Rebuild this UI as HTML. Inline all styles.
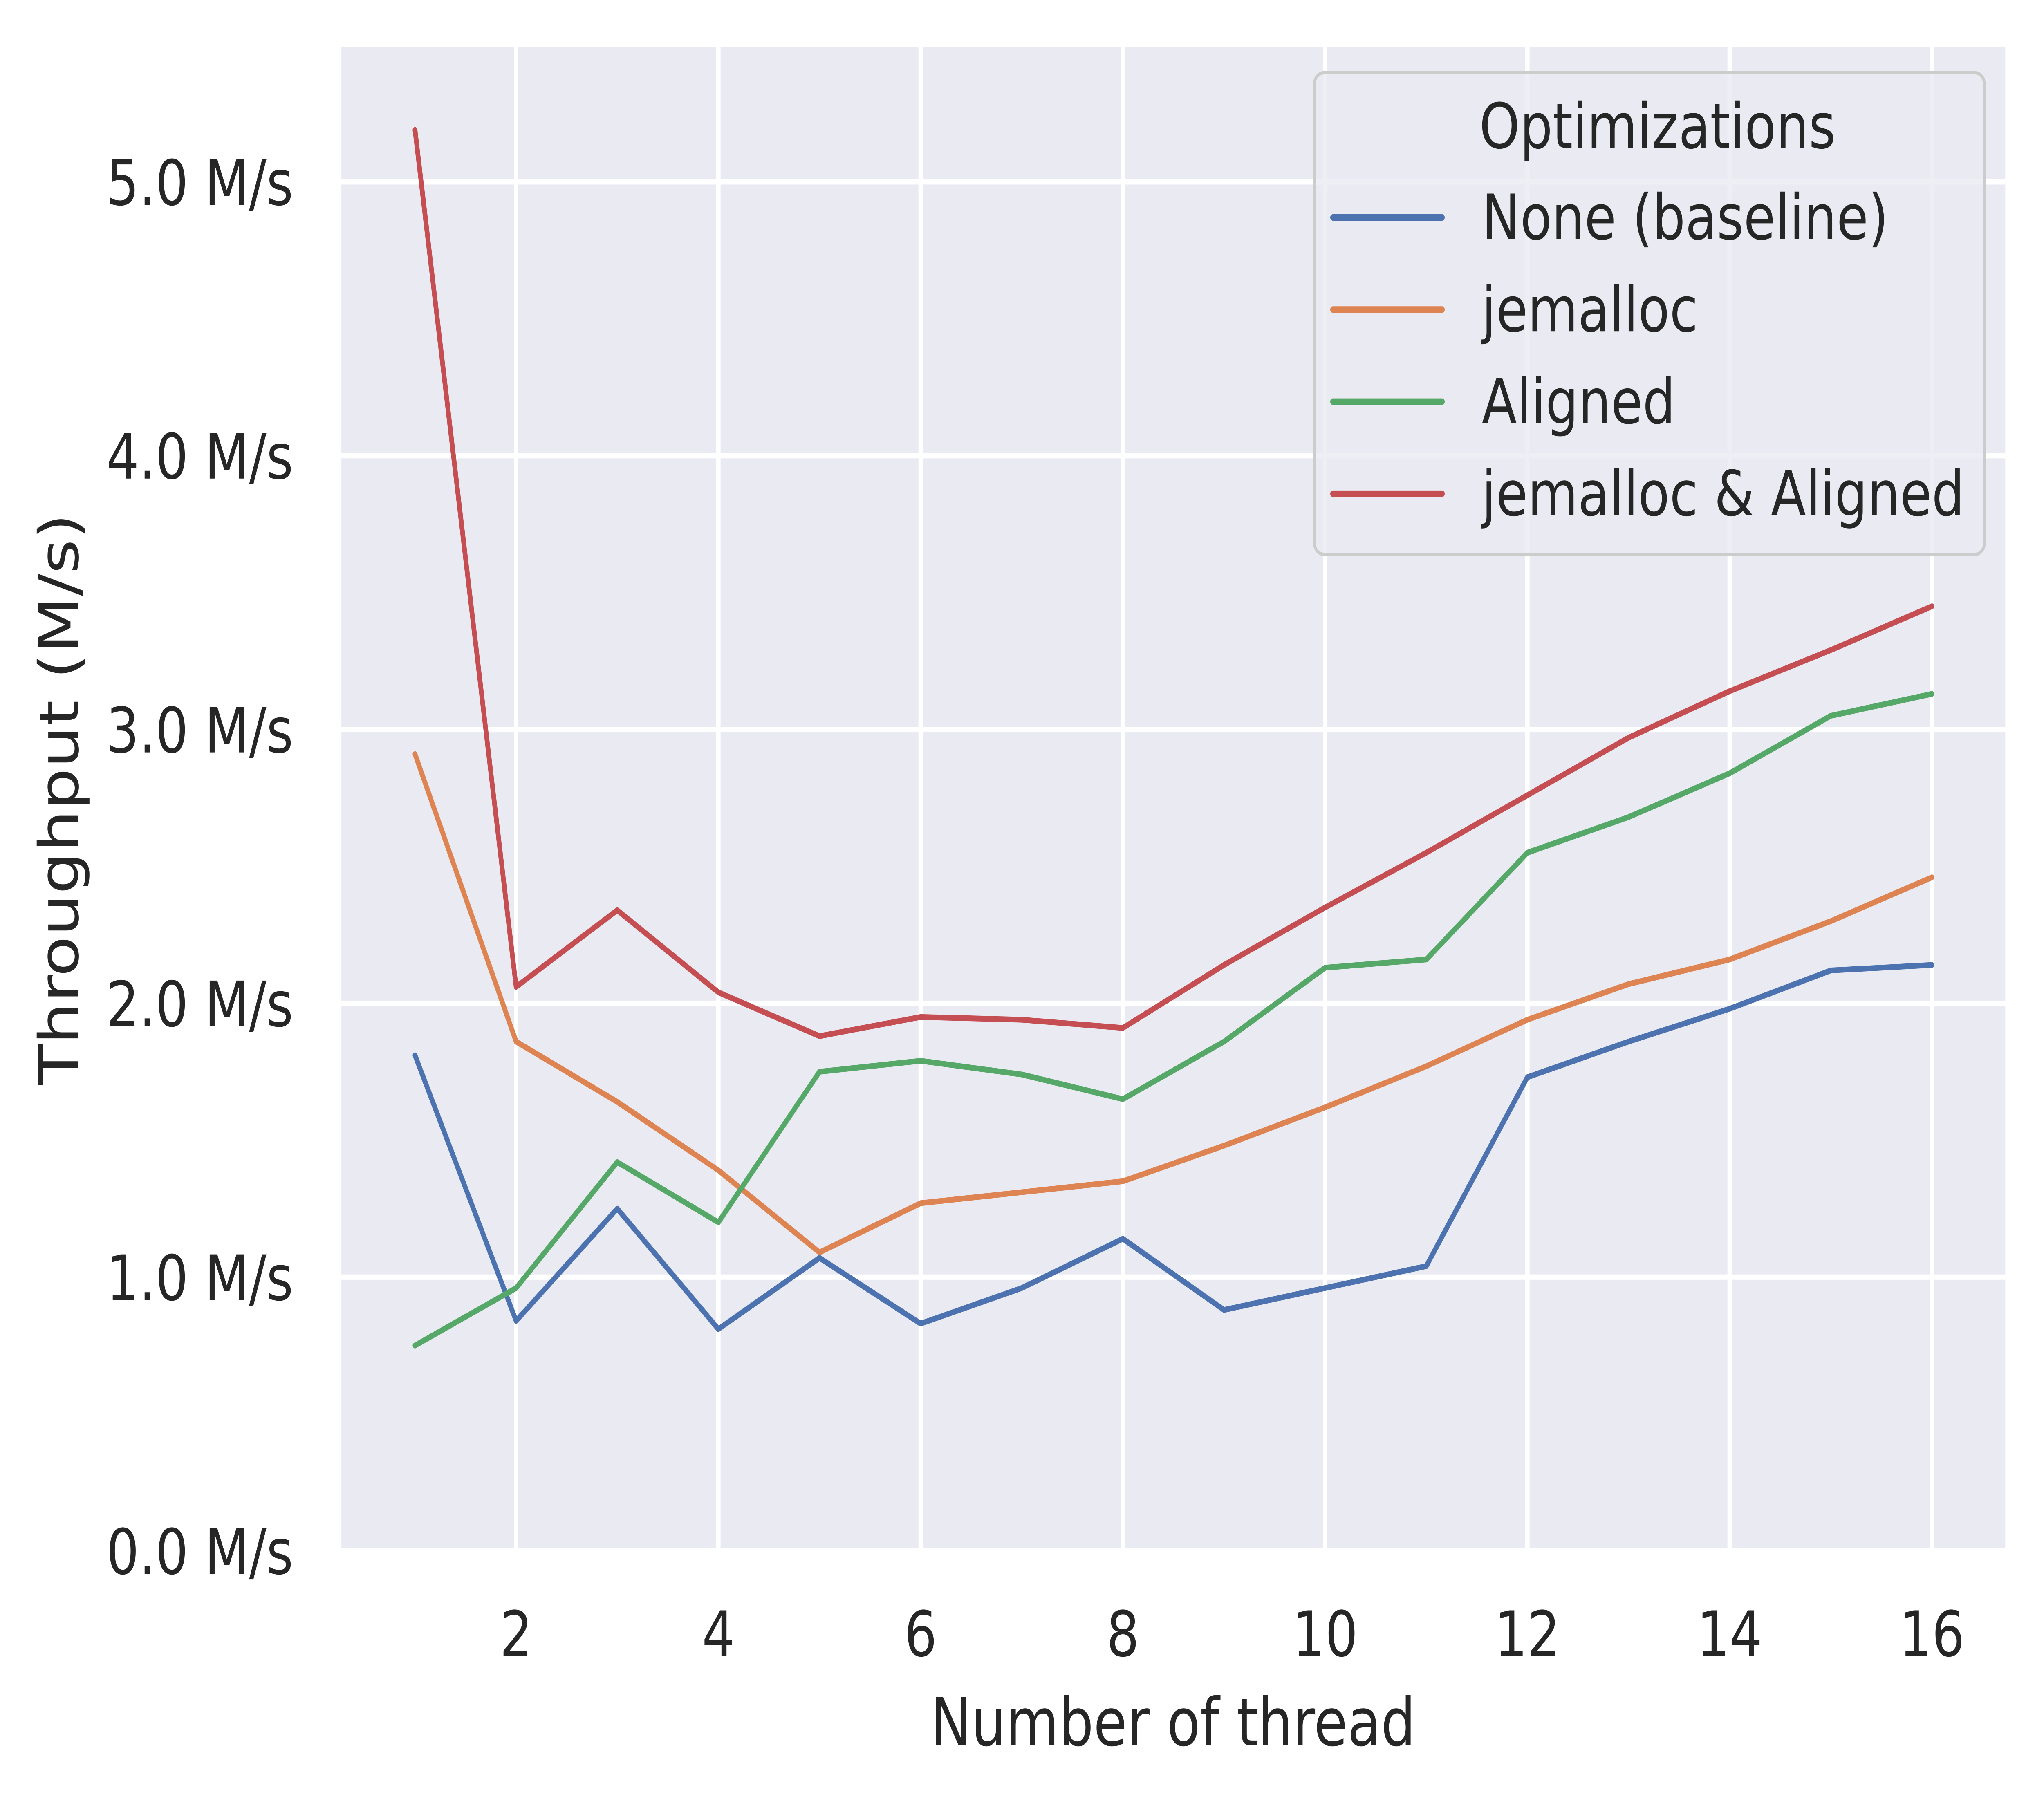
<!DOCTYPE html>
<html><head><meta charset="utf-8"><style>
html,body{margin:0;padding:0;background:#fff;overflow:hidden;width:100vw;height:100vh;}
svg{display:block;position:absolute;left:0;top:0;width:100vw;height:100vh;}
text{font-family:"DejaVu Sans","Liberation Sans",sans-serif;fill:#262626;}
</style></head><body>
<svg id="chart" viewBox="0 0 6071 4401" preserveAspectRatio="none" xmlns="http://www.w3.org/2000/svg">
<rect x="1014" y="115" width="4942" height="3679" fill="#eaeaf2"/>
<g id="grid"></g>
<g id="ticks"></g>
<g id="series"></g>
<text x="3484" y="4270" font-size="162" text-anchor="middle">Number of thread</text>
<text x="0" y="0" font-size="162" text-anchor="middle" transform="translate(232,1955) rotate(-90)">Throughput (M/s)</text>
<g id="legend">
<rect x="3904" y="178" width="1990" height="1178" rx="28" fill="#eaeaf2" fill-opacity="0.8" stroke="#cccccc" stroke-width="8"/>
<text x="4923" y="362" font-size="153" text-anchor="middle">Optimizations</text>
</g>
</svg>
<script>
const threads=[1,2,3,4,5,6,7,8,9,10,11,12,13,14,15,16];
const baseline=[1.81,0.84,1.25,0.81,1.07,0.83,0.96,1.14,0.88,0.96,1.04,1.73,1.86,1.98,2.12,2.14];
const jemalloc=[2.91,1.86,1.64,1.39,1.09,1.27,1.31,1.35,1.48,1.62,1.77,1.94,2.07,2.16,2.30,2.46];
const aligned=[0.75,0.96,1.42,1.20,1.75,1.79,1.74,1.65,1.86,2.13,2.16,2.55,2.68,2.84,3.05,3.13];
const jemallocAligned=[5.19,2.06,2.34,2.04,1.88,1.95,1.94,1.91,2.14,2.35,2.55,2.76,2.97,3.14,3.29,3.45];
const xTicks=[2,4,6,8,10,12,14,16];
const yTicks=[0,1,2,3,4,5];
const yTickLabels=["0.0 M/s","1.0 M/s","2.0 M/s","3.0 M/s","4.0 M/s","5.0 M/s"];
const seriesNames=["None (baseline)","jemalloc","Aligned","jemalloc & Aligned"];

const NS="http://www.w3.org/2000/svg";
const X0=1014,X1=5956,Y0=115,Y1=3794;
function sx(v){return 1533+(v-2)*300.36;}
function sy(v){return 3794-v*669.8;}
function mk(tag,attrs,parent){const e=document.createElementNS(NS,tag);for(const k in attrs)e.setAttribute(k,attrs[k]);parent.appendChild(e);return e;}
const grid=document.getElementById('grid'),ticks=document.getElementById('ticks'),ser=document.getElementById('series'),leg=document.getElementById('legend');
xTicks.forEach(t=>{
  const l=mk('line',{x1:sx(t),x2:sx(t),y1:Y0,y2:Y1,stroke:'#fff','stroke-width':13},grid);
  
  
  const tx=mk('text',{x:sx(t),y:4051,'font-size':153,'text-anchor':'middle'},ticks);
  tx.textContent=t;
  
  
});
yTicks.forEach((t,i)=>{
  const l=mk('line',{x1:X0,x2:X1,y1:sy(t),y2:sy(t),stroke:'#fff','stroke-width':13},grid);
  
  
  const tx=mk('text',{x:871,y:sy(t)+56,'font-size':153,'text-anchor':'end'},ticks);
  tx.textContent=yTickLabels[i];
  
  
});
const all=[baseline,jemalloc,aligned,jemallocAligned];
const colors=["#4c72b0","#dd8452","#55a868","#c44e52"];
const keys=["baseline","jemalloc","aligned","jemalloc-aligned"];
all.forEach((vals,i)=>{
  const pts=vals.map((v,j)=>sx(threads[j])+','+sy(v)).join(' ');
  const p=mk('polyline',{points:pts,fill:'none',stroke:colors[i],'stroke-width':14,'stroke-linejoin':'round','stroke-linecap':'round'},ser);
  
  
  const ly=532+i*225.3;
  const ll=mk('line',{x1:3959,x2:4283,y1:ly,y2:ly,stroke:colors[i],'stroke-width':16,'stroke-linecap':'round'},leg);
  
  
  const lt=mk('text',{x:4401,y:ly+53,'font-size':153},leg);
  lt.textContent=seriesNames[i];
  
  
});
</script>
</body></html>
